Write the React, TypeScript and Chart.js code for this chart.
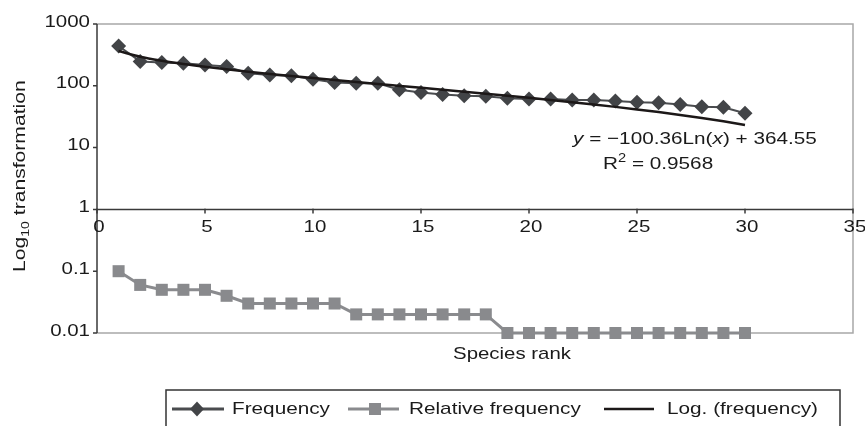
import React, { useEffect, useRef } from "react";
import { Chart, registerables } from "chart.js";

Chart.register(...registerables);

// ---- Data ----
const RANKS = [1, 2, 3, 4, 5, 6, 7, 8, 9, 10, 11, 12, 13, 14, 15, 16, 17, 18, 19, 20, 21, 22, 23, 24, 25, 26, 27, 28, 29, 30];
const FREQUENCY = [440, 248, 238, 232, 218, 205, 160, 150, 146, 128, 113, 110, 110, 86, 78, 72, 69, 68, 63, 61, 61, 59, 59, 57, 54, 53, 50, 46, 45, 36];
const RELATIVE_FREQUENCY = [0.1, 0.06, 0.05, 0.05, 0.05, 0.04, 0.03, 0.03, 0.03, 0.03, 0.03, 0.02, 0.02, 0.02, 0.02, 0.02, 0.02, 0.02, 0.01, 0.01, 0.01, 0.01, 0.01, 0.01, 0.01, 0.01, 0.01, 0.01, 0.01, 0.01];
// Trendline as printed on the chart: y = -100.36 Ln(x) + 364.55
const TREND_SLOPE = -100.36;
const TREND_INTERCEPT = 364.55;
const TREND = RANKS.map((r) => TREND_SLOPE * Math.log(r) + TREND_INTERCEPT);

const X_TICKS = [0, 5, 10, 15, 20, 25, 30, 35];
const Y_TICKS = [1000, 100, 10, 1, 0.1, 0.01];
const Y_TICK_LABELS = ["1000", "100", "10", "1", "0.1", "0.01"];

const SERIES_NAMES = ["Frequency", "Relative frequency", "Log. (frequency)"];
const X_TITLE = "Species rank";

const FONT = '"Liberation Sans", Arial, sans-serif';
const SX = 1.28;

type Seg = { t: string; italic?: boolean; sup?: boolean; sub?: boolean };

function segFont(s: Seg, size: number) {
  const sz = s.sup || s.sub ? Math.round(size * 0.68) : size;
  return `${s.italic ? "italic " : ""}${sz}px ${FONT}`;
}

function drawRich(
  ctx: CanvasRenderingContext2D,
  segs: Seg[],
  x: number,
  y: number,
  size: number,
  align: "left" | "center" | "right",
  color = "#1a1a1a",
  sx = SX
) {
  let w = 0;
  for (const s of segs) {
    ctx.font = segFont(s, size);
    w += ctx.measureText(s.t).width;
  }
  ctx.save();
  ctx.translate(x, y);
  ctx.scale(sx, 1);
  ctx.textAlign = "left";
  ctx.textBaseline = "alphabetic";
  ctx.fillStyle = color;
  let cx = align === "left" ? 0 : align === "center" ? -w / 2 : -w;
  for (const s of segs) {
    ctx.font = segFont(s, size);
    const dy = s.sup ? -size * 0.4 : s.sub ? size * 0.22 : 0;
    ctx.fillText(s.t, cx, dy);
    cx += ctx.measureText(s.t).width;
  }
  ctx.restore();
}

const framePlugin = {
  id: "frame",
  beforeDatasetsDraw(chart: any) {
    const ctx: CanvasRenderingContext2D = chart.ctx;
    const { left, right, top, bottom } = chart.chartArea;
    const xs = chart.scales.x;
    const ys = chart.scales.y;
    ctx.save();
    // light frame
    ctx.strokeStyle = "#a8a8a8";
    ctx.lineWidth = 1.5;
    ctx.beginPath();
    ctx.moveTo(left, top);
    ctx.lineTo(right, top);
    ctx.lineTo(right, bottom);
    ctx.lineTo(left, bottom);
    ctx.stroke();
    // y axis
    ctx.strokeStyle = "#3a3a3a";
    ctx.lineWidth = 1.5;
    ctx.beginPath();
    ctx.moveTo(left, top);
    ctx.lineTo(left, bottom);
    for (const v of Y_TICKS) {
      const py = ys.getPixelForValue(v);
      ctx.moveTo(left - 4, py);
      ctx.lineTo(left, py);
    }
    ctx.stroke();
    // x axis crossing at y = 1
    const ay = ys.getPixelForValue(1);
    ctx.beginPath();
    ctx.moveTo(left, ay);
    ctx.lineTo(right, ay);
    for (const v of X_TICKS) {
      const px = xs.getPixelForValue(v);
      ctx.moveTo(px, ay - 1);
      ctx.lineTo(px, ay + 4);
    }
    ctx.stroke();
    ctx.restore();
  },
  afterDraw(chart: any) {
    const ctx: CanvasRenderingContext2D = chart.ctx;
    const xs = chart.scales.x;
    const ys = chart.scales.y;
    const { left } = chart.chartArea;
    const ay = ys.getPixelForValue(1);

    // y tick labels
    Y_TICKS.forEach((v, i) => {
      const py = ys.getPixelForValue(v);
      drawRich(ctx, [{ t: Y_TICK_LABELS[i] }], left - 7, py + 2.5, 16, "right");
    });
    // x tick labels
    X_TICKS.forEach((v) => {
      const px = xs.getPixelForValue(v);
      drawRich(ctx, [{ t: String(v) }], px + 2, ay + 23, 16, "center");
    });
    // x title
    drawRich(ctx, [{ t: X_TITLE }], 512, 359, 17, "center", "#1a1a1a", 1.2);
    // y title (rotated)
    ctx.save();
    ctx.translate(25, 272);
    ctx.rotate(-Math.PI / 2);
    drawRich(ctx, [{ t: "Log" }, { t: "10", sub: true }, { t: " transformation" }], 0, 0, 16.5, "left", "#1a1a1a", 1.28);
    ctx.restore();
    // equation
    drawRich(
      ctx,
      [{ t: "y", italic: true }, { t: " = \u2212100.36Ln(" }, { t: "x", italic: true }, { t: ") + 364.55" }],
      573,
      144,
      17,
      "left",
      "#1a1a1a",
      1.22
    );
    drawRich(ctx, [{ t: "R" }, { t: "2", sup: true }, { t: " = 0.9568" }], 603, 168.5, 17, "left", "#1a1a1a", 1.22);

    // legend
    ctx.save();
    ctx.strokeStyle = "#333";
    ctx.lineWidth = 1.5;
    ctx.beginPath();
    ctx.moveTo(166, 440);
    ctx.lineTo(166, 390);
    ctx.lineTo(840, 390);
    ctx.lineTo(840, 440);
    ctx.stroke();
    const ly = 409;
    // Frequency
    ctx.strokeStyle = "#4a4c4f";
    ctx.lineWidth = 3;
    ctx.beginPath();
    ctx.moveTo(172, ly);
    ctx.lineTo(224, ly);
    ctx.stroke();
    ctx.fillStyle = "#424447";
    ctx.beginPath();
    ctx.moveTo(197, ly - 7.5);
    ctx.lineTo(204, ly);
    ctx.lineTo(197, ly + 7.5);
    ctx.lineTo(190, ly);
    ctx.closePath();
    ctx.fill();
    // Relative frequency
    ctx.strokeStyle = "#8a8b8e";
    ctx.lineWidth = 3;
    ctx.beginPath();
    ctx.moveTo(348, ly);
    ctx.lineTo(399, ly);
    ctx.stroke();
    ctx.fillStyle = "#898a8d";
    ctx.fillRect(375 - 6, ly - 6, 12, 12);
    // Log trend
    ctx.strokeStyle = "#1c1818";
    ctx.lineWidth = 2.5;
    ctx.beginPath();
    ctx.moveTo(604, ly);
    ctx.lineTo(654, ly);
    ctx.stroke();
    ctx.restore();
    drawRich(ctx, [{ t: SERIES_NAMES[0] }], 232, 414, 17, "left", "#1a1a1a", 1.22);
    drawRich(ctx, [{ t: SERIES_NAMES[1] }], 409, 414, 17, "left", "#1a1a1a", 1.22);
    drawRich(ctx, [{ t: SERIES_NAMES[2] }], 667, 414, 17, "left", "#1a1a1a", 1.22);
  },
};

export default function App() {
  const ref = useRef<HTMLCanvasElement | null>(null);
  useEffect(() => {
    if (!ref.current) return;
    const chart = new Chart(ref.current, {
      type: "line",
      data: {
        datasets: [
          {
            label: SERIES_NAMES[2],
            data: RANKS.map((r, i) => ({ x: r, y: TREND[i] })),
            borderColor: "#1c1818",
            borderWidth: 2.5,
            pointRadius: 0,
            cubicInterpolationMode: "monotone",
            clip: false,
          } as any,
          {
            label: SERIES_NAMES[0],
            data: RANKS.map((r, i) => ({ x: r, y: FREQUENCY[i] })),
            borderColor: "#4a4c4f",
            borderWidth: 2,
            pointStyle: "rectRot",
            pointRadius: 7.5,
            pointBorderWidth: 0,
            pointBackgroundColor: "#424447",
            clip: false,
          } as any,
          {
            label: SERIES_NAMES[1],
            data: RANKS.map((r, i) => ({ x: r, y: RELATIVE_FREQUENCY[i] })),
            borderColor: "#8a8b8e",
            borderWidth: 3,
            pointStyle: "rect",
            pointRadius: 8.5,
            pointBorderWidth: 0,
            pointBackgroundColor: "#898a8d",
            clip: false,
          } as any,
        ],
      },
      options: {
        animation: false,
        responsive: true,
        maintainAspectRatio: false,
        events: [],
        layout: { padding: { left: 97, right: 12, top: 24, bottom: 93 } },
        plugins: { legend: { display: false }, tooltip: { enabled: false } },
        scales: {
          x: { type: "linear", min: 0, max: 35, display: false },
          y: { type: "logarithmic", min: 0.01, max: 1000, display: false },
        },
      },
      plugins: [framePlugin],
    });
    return () => chart.destroy();
  }, []);
  return (
    <div style={{ position: "fixed", left: 0, top: 0, width: 865, height: 426, background: "#fff" }}>
      <canvas ref={ref} />
    </div>
  );
}
